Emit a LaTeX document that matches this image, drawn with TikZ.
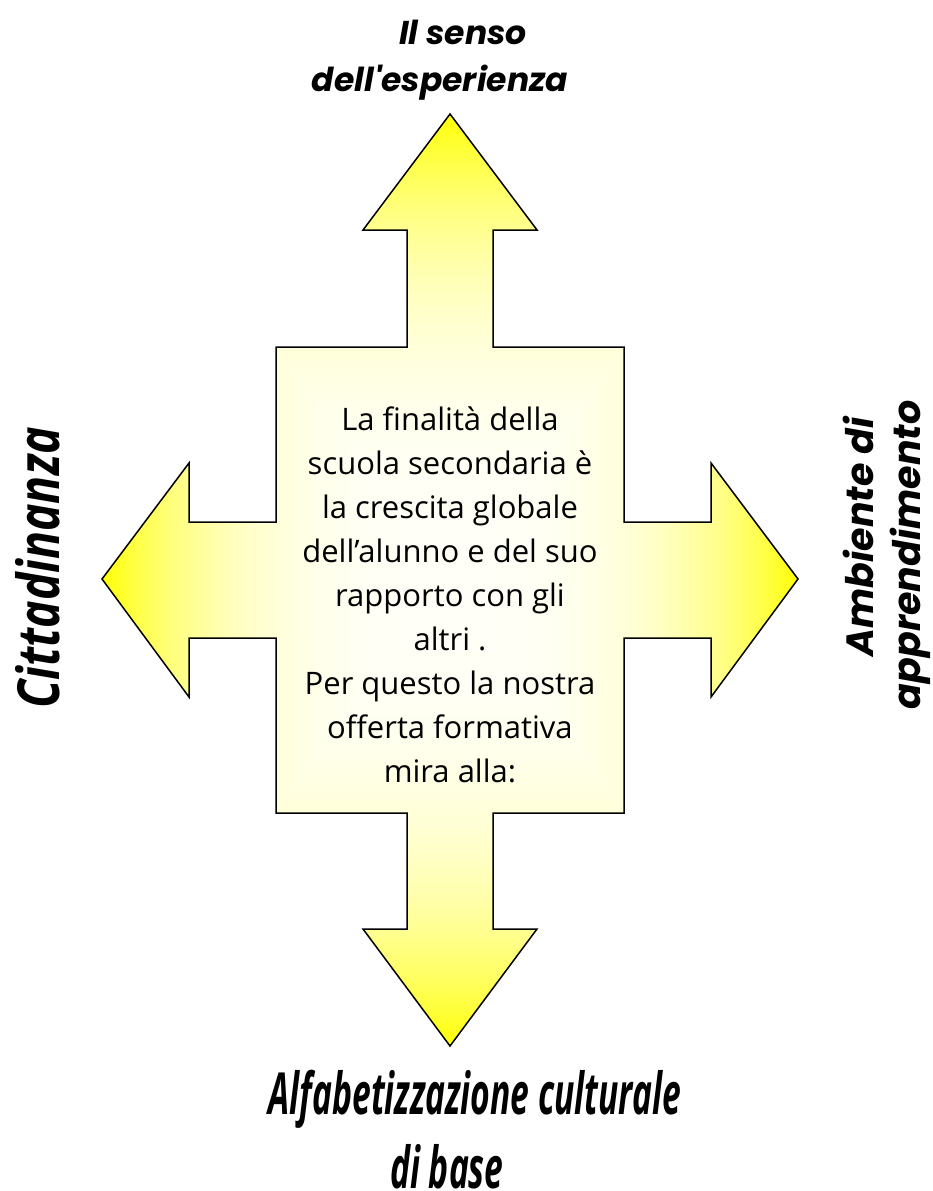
\documentclass[tikz,border=0pt]{standalone}
\usepackage{fontspec}
\setmainfont{Open Sans}
\newfontfamily\labelfont{Poppins}
\usepackage{graphicx}
\pgfdeclarefunctionalshading{crossshade}{\pgfpointorigin}{\pgfpoint{100bp}{100bp}}{}{
  50 sub abs exch 50 sub abs 2 copy lt {exch} if pop
  25 div dup 1 gt {pop 1} if dup dup mul mul 0.95 mul 0.97 exch sub
  1 1 3 -1 roll
}
\newcommand\squash[2]{\scalebox{#1}[1]{#2}}
\begin{document}
\begin{tikzpicture}[x=1pt,y=-1pt,
  crossshape/.style={draw=black, line width=1.5pt, line join=miter, shade, shading=crossshade},
  bodytext/.style={align=center, inner sep=0pt, font=\fontsize{31}{44}\selectfont},
  toplabel/.style={align=center, inner sep=0pt, font=\labelfont\fontsize{33}{47}\selectfont\bfseries\itshape},
  sidelabel/.style={align=center, inner sep=0pt, rotate=90, font=\labelfont\fontsize{38}{47}\selectfont\bfseries\itshape},
  biglabel/.style={align=center, inner sep=0pt, font=\fontsize{58}{74}\selectfont\bfseries\itshape}]
\useasboundingbox (0,0) rectangle (932,1191);
\path[crossshape]
  (450,114) -- (537,230) -- (493,230) -- (493,347) -- (624,347) -- (624,522)
  -- (711,522) -- (711,463) -- (798,579) -- (711,697) -- (711,638) -- (624,638)
  -- (624,813) -- (493,813) -- (493,929) -- (537,929) -- (450,1046) -- (363,929)
  -- (407,929) -- (407,813) -- (276,813) -- (276,638) -- (189,638) -- (189,697)
  -- (102,579) -- (189,463) -- (189,522) -- (276,522) -- (276,347) -- (407,347)
  -- (407,230) -- (363,230) -- cycle;
\node[bodytext] (centre) at (450,595) {La finalità della\\scuola secondaria è\\la crescita globale\\dell’alunno e del suo\\rapporto con gli\\altri .\\Per questo la nostra\\offerta formativa\\mira alla:};
\node[toplabel] (senso) at (452,60) {\hspace*{22pt}Il senso\\dell\textquotesingle esperienza\hspace*{24pt}};
\node[biglabel, rotate=90] (citt) at (38,568) {\squash{0.8}{Cittadinanza}};
\node[sidelabel] (amb) at (887,546) {\hspace*{18pt}Ambiente di\\apprendimento\hspace*{18pt}};
\node[biglabel] (alfa) at (462,1130) {\hspace*{26pt}\squash{0.58}{Alfabetizzazione culturale}\\\squash{0.58}{di base}\hspace*{30pt}};
\end{tikzpicture}
\end{document}
